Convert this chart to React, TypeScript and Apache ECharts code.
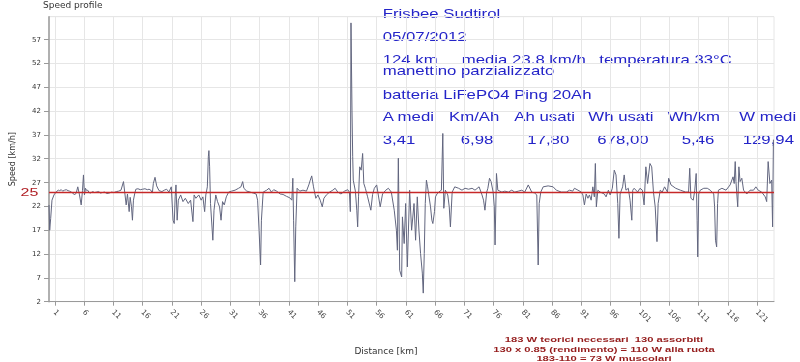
import React, { useEffect, useRef } from "react";
import * as echarts from "echarts";

// Distance along the ride (km) and speed (km/h)
const distanceKm: number[] = [
  0.0, 0.12, 0.29, 0.51, 0.85, 1.26, 1.6, 1.82, 2.1, 2.33, 2.65, 2.95, 3.25, 3.51, 3.8, 4.07, 4.36, 4.65, 4.92, 5.21,
  5.5, 5.72, 5.89, 6.06, 6.23, 6.45, 6.62, 6.85, 7.08, 7.47, 7.8, 8.1, 8.5, 8.8, 9.1, 9.5, 9.9, 10.3, 10.7, 11.1,
  11.5, 11.9, 12.3, 12.73, 12.94, 13.19, 13.41, 13.7, 13.87, 14.09, 14.26, 14.43, 14.67, 14.84, 15.2, 15.6, 16.0, 16.4, 16.8, 17.1,
  17.4, 17.66, 17.83, 18.12, 18.4, 18.8, 19.3, 19.7, 20.1, 20.5, 20.9, 21.2, 21.4, 21.56, 21.7, 21.9, 22.1, 22.5, 22.9, 23.3,
  23.8, 24.2, 24.6, 24.8, 25.1, 25.6, 26.0, 26.3, 26.6, 26.8, 27.06, 27.23, 27.33, 27.45, 27.6, 28.0, 28.2, 28.5, 28.8, 29.15,
  29.4, 29.66, 29.95, 30.3, 30.7, 31.2, 31.8, 32.4, 32.8, 33.1, 33.3, 33.8, 34.4, 34.9, 35.4, 35.65, 35.9, 36.16, 36.3, 36.6,
  37.2, 37.6, 38.0, 38.4, 38.9, 39.5, 40.0, 40.6, 41.15, 41.5, 41.67, 41.8, 42.0, 42.17, 42.4, 42.85, 43.4, 44.0, 44.4, 44.65,
  44.9, 45.2, 45.6, 45.96, 46.35, 46.7, 46.98, 47.4, 47.95, 48.5, 48.9, 49.35, 49.9, 50.5, 51.05, 51.34, 51.5, 51.61, 51.78, 51.9,
  52.0, 52.36, 52.6, 52.75, 52.9, 53.1, 53.35, 53.6, 53.8, 54.06, 54.45, 55.0, 55.3, 55.6, 56.0, 56.6, 57.0, 57.55, 58.0, 58.5,
  59.0, 59.37, 59.54, 59.7, 59.93, 60.27, 60.4, 60.7, 60.95, 61.24, 61.63, 61.97, 62.38, 62.65, 62.94, 63.22, 63.5, 63.8, 63.96, 64.13,
  64.3, 64.5, 64.7, 64.9, 65.2, 65.43, 65.6, 65.88, 66.05, 66.3, 66.6, 67.06, 67.3, 67.47, 67.74, 68.15, 68.4, 68.6, 68.9, 69.34,
  70.0, 70.58, 71.1, 71.7, 72.3, 72.8, 73.5, 74.0, 74.26, 74.5, 74.8, 75.0, 75.28, 75.55, 75.9, 76.1, 76.23, 76.47, 76.7, 77.4,
  77.9, 78.5, 79.07, 79.6, 80.2, 80.8, 81.3, 81.9, 82.5, 83.0, 83.36, 83.6, 83.77, 84.04, 84.45, 85.3, 86.15, 86.7, 87.55, 88.4,
  88.96, 89.5, 89.8, 90.4, 90.97, 91.24, 91.5, 91.8, 92.1, 92.36, 92.65, 92.94, 93.2, 93.37, 93.54, 93.8, 94.2, 94.9, 95.2, 95.6,
  95.9, 96.27, 96.6, 96.9, 97.2, 97.4, 97.6, 98.03, 98.3, 98.6, 99.0, 99.3, 99.6, 99.76, 100.0, 100.6, 101.0, 101.4, 101.7, 102.0,
  102.3, 102.7, 103.0, 103.3, 103.6, 103.9, 104.1, 104.46, 104.8, 105.2, 105.7, 105.9, 106.3, 107.1, 107.9, 108.8, 109.3, 109.5, 109.7, 110.1,
  110.36, 110.6, 110.76, 110.87, 111.04, 111.3, 111.9, 112.5, 113.0, 113.6, 113.75, 113.9, 114.1, 114.26, 114.4, 115.0, 115.7, 116.4, 116.9, 117.1,
  117.27, 117.4, 117.7, 117.9, 118.1, 118.4, 118.7, 119.25, 119.8, 120.4, 120.8, 121.2, 121.8, 122.4, 122.65, 122.9, 123.2, 123.5, 123.66, 123.8,
];

const speedKmh: number[] = [
  22.3, 17.0, 19.5, 23.3, 24.4, 25.1, 25.4, 25.3, 25.5, 25.2, 25.4, 25.5, 25.3, 25.2, 25.0, 24.8, 24.4, 24.8, 26.1, 24.4,
  22.3, 25.3, 28.6, 24.4, 25.8, 25.3, 25.4, 24.9, 24.8, 25.1, 24.9, 25.0, 25.1, 24.8, 24.9, 25.0, 24.7, 24.8, 25.0, 24.9,
  25.1, 25.2, 25.4, 27.2, 25.0, 22.3, 24.6, 20.9, 23.9, 22.0, 19.1, 23.3, 24.8, 25.6, 25.7, 25.5, 25.6, 25.7, 25.5, 25.6,
  25.4, 24.8, 26.8, 28.1, 26.3, 25.3, 25.1, 25.4, 25.6, 25.0, 26.1, 19.1, 18.4, 24.0, 26.5, 19.1, 23.3, 24.4, 23.0, 23.7,
  22.6, 23.3, 18.8, 24.4, 23.7, 24.4, 23.3, 24.0, 20.9, 24.4, 26.1, 32.4, 33.7, 30.3, 22.6, 14.9, 21.2, 24.4, 23.0, 21.9,
  19.1, 23.0, 22.3, 24.0, 25.0, 25.2, 25.4, 25.8, 26.1, 27.2, 25.8, 25.2, 25.0, 24.8, 24.6, 23.3, 17.0, 9.7, 19.1, 25.0,
  25.4, 25.8, 25.0, 25.5, 25.2, 24.6, 24.5, 24.1, 23.8, 23.3, 27.9, 19.1, 6.2, 17.7, 25.8, 25.2, 25.4, 25.2, 26.5, 27.5,
  28.4, 26.1, 23.7, 24.4, 23.3, 21.9, 23.7, 24.4, 25.0, 25.4, 25.8, 25.0, 24.6, 25.2, 25.5, 25.0, 20.9, 60.5, 42.2, 32.4,
  27.5, 25.2, 21.2, 17.7, 24.0, 30.3, 29.6, 33.1, 26.8, 25.8, 24.0, 21.2, 24.5, 25.8, 26.5, 21.9, 24.6, 25.4, 25.8, 25.0,
  21.2, 17.0, 12.8, 32.1, 8.6, 7.2, 19.8, 14.2, 22.6, 9.3, 25.4, 17.0, 22.6, 14.9, 24.0, 17.0, 12.1, 8.0, 3.8, 12.1,
  22.6, 27.5, 26.1, 24.4, 21.9, 19.1, 18.4, 20.9, 24.0, 24.6, 25.0, 25.4, 37.3, 21.6, 25.4, 24.4, 21.9, 17.7, 25.0, 26.1,
  25.8, 25.4, 25.8, 25.6, 25.8, 25.4, 26.1, 24.4, 23.3, 21.2, 25.0, 25.8, 27.9, 27.2, 25.0, 21.9, 13.9, 28.9, 25.4, 25.0,
  25.2, 25.0, 25.4, 25.0, 25.2, 25.4, 25.0, 26.5, 25.0, 24.8, 24.4, 9.7, 22.6, 25.0, 26.1, 26.3, 26.1, 25.4, 25.0, 25.0,
  25.4, 25.2, 25.8, 25.4, 25.0, 24.4, 22.3, 24.6, 23.7, 24.4, 23.3, 26.1, 24.0, 31.0, 21.9, 25.4, 25.0, 24.6, 24.0, 25.4,
  24.4, 25.8, 29.6, 28.6, 22.6, 15.3, 24.6, 26.1, 28.6, 25.4, 25.8, 23.3, 19.1, 25.4, 25.8, 25.0, 25.8, 25.4, 22.3, 30.3,
  26.8, 31.0, 30.3, 25.0, 21.9, 14.6, 22.6, 25.4, 25.0, 26.1, 25.0, 27.9, 26.5, 25.8, 25.4, 25.0, 25.0, 30.0, 23.7, 23.3,
  25.4, 28.9, 19.1, 11.4, 24.6, 25.4, 25.8, 25.8, 25.4, 24.6, 21.9, 14.9, 13.5, 22.6, 25.4, 25.8, 25.4, 26.5, 28.2, 26.8,
  31.4, 27.2, 21.9, 30.3, 27.2, 27.9, 25.4, 24.6, 25.4, 25.4, 26.1, 25.4, 25.0, 24.0, 23.0, 31.4, 26.8, 27.5, 17.7, 36.0,
];

const xTickValues: number[] = [1, 6, 11, 16, 21, 26, 31, 36, 41, 46, 51, 56, 61, 66, 71, 76, 81, 86, 91, 96, 101, 106, 111, 116, 121];
const referenceSpeed = 25;

const infoTitle = "Frisbee Sudtirol";
const infoDate = "05/07/2012";
const infoLine3 = ["124 km", "media 23.8 km/h", "temperatura 33°C"];
const infoLine4 = "manettino parzializzato";
const infoBattery = "batteria LiFePO4 Ping 20Ah";
const statHeaders = ["A medi", "Km/Ah", "Ah usati", "Wh usati", "Wh/km", "W medi"];
const statValues = ["3,41", "6,98", "17,80", "678,00", "5,46", "129,94"];
const noteLines = [
  "183 W teorici necessari  130 assorbiti",
  "130 x 0.85 (rendimento) = 110 W alla ruota",
  "183-110 = 73 W muscolari",
];

export default function App() {
  const ref = useRef<HTMLDivElement>(null);

  useEffect(() => {
    if (!ref.current) return;
    const chart = echarts.init(ref.current, null, { renderer: "svg" });
    const data = distanceKm.map((d, i) => [d, speedKmh[i]]);

    const blue = "#2424c8";
    const blueFont = "Liberation Sans";
    const blueText = (text: string, x: number, y: number) => ({
      type: "text",
      x,
      y,
      scaleX: 1.4,
      style: { text, fill: blue, fontSize: 12, fontFamily: blueFont, align: "left", verticalAlign: "middle" },
    });
    const headerX = [382.7, 449, 514.3, 588.3, 667.7, 739.3];
    const valueX = [382.7, 460.7, 527.3, 597.3, 681.7, 742.7];
    const line3X = [382.7, 461.7, 599.3];
    const noteY = [339.3, 349, 358.3];

    const graphic: any[] = [
      blueText(infoTitle, 382.7, 14),
      blueText(infoDate, 382.7, 36.7),
      ...infoLine3.map((t, i) => blueText(t, line3X[i], 60)),
      blueText(infoLine4, 382.7, 71.3),
      blueText(infoBattery, 382.7, 95),
      ...statHeaders.map((t, i) => blueText(t, headerX[i], 117.3)),
      ...statValues.map((t, i) => blueText(t, valueX[i], 140)),
      ...noteLines.map((t, i) => ({
        type: "text",
        x: 604,
        y: noteY[i],
        scaleX: 1.4,
        style: { text: t, fill: "#951c1c", fontSize: 8, fontWeight: "bold", fontFamily: blueFont, align: "center", verticalAlign: "middle" },
      })),
      {
        type: "text",
        x: 20.5,
        y: 192.5,
        scaleX: 1.6,
        style: { text: String(referenceSpeed), fill: "#b01e24", fontSize: 10, fontFamily: blueFont, align: "left", verticalAlign: "middle" },
      },
      {
        type: "text",
        x: 386,
        y: 351,
        style: { text: "Distance [km]", fill: "#333", fontSize: 9, fontFamily: "DejaVu Sans", align: "center", verticalAlign: "middle" },
      },
    ];

    const option: any = {
      animation: false,
      title: {
        text: "Speed profile",
        left: 43,
        top: 0,
        padding: 0,
        textStyle: { fontSize: 9, fontWeight: "normal", color: "#333", fontFamily: "DejaVu Sans" },
      },
      grid: { left: 44.3, right: 26, top: 16.7, bottom: 60.3, show: true, borderColor: "#e6e6e6", borderWidth: 1, backgroundColor: "transparent" },
      xAxis: {
        type: "value",
        min: 0,
        max: 123.9,
        axisLine: { show: true, onZero: false, lineStyle: { color: "#9a9a9a", width: 1 } },
        axisTick: { show: true, customValues: xTickValues, length: 4, lineStyle: { color: "#9a9a9a" } },
        axisLabel: { customValues: xTickValues, rotate: -45, fontSize: 7.5, color: "#444", margin: 9, fontFamily: "DejaVu Sans" },
        splitLine: { show: true, lineStyle: { color: "#e6e6e6", width: 1 } },
      },
      yAxis: {
        type: "value",
        min: 2,
        max: 61.8,
        interval: 5,
        name: "Speed [km/h]",
        nameLocation: "middle",
        nameGap: 33,
        nameRotate: 90,
        nameTextStyle: { fontSize: 8, color: "#333", fontFamily: "DejaVu Sans" },
        axisLine: { show: true, lineStyle: { color: "#9a9a9a", width: 1.5 } },
        axisTick: { show: true, length: 5, lineStyle: { color: "#9a9a9a" } },
        axisLabel: { fontSize: 7, color: "#333", margin: 8, showMaxLabel: false, fontFamily: "DejaVu Sans" },
        splitLine: { show: true, lineStyle: { color: "#e6e6e6", width: 1 } },
      },
      series: [
        {
          type: "line",
          data,
          symbol: "none",
          lineStyle: { color: "#62667f", width: 1 },
          markLine: {
            silent: true,
            symbol: ["none", "none"],
            label: { show: false },
            lineStyle: { color: "#c62828", width: 1.3, type: "solid" },
            data: [{ yAxis: referenceSpeed }],
          },
        },
      ],
      graphic,
    };

    chart.setOption(option);
    return () => chart.dispose();
  }, []);

  return <div ref={ref} style={{ position: "fixed", left: 0, top: 0, width: 800, height: 362 }} />;
}
